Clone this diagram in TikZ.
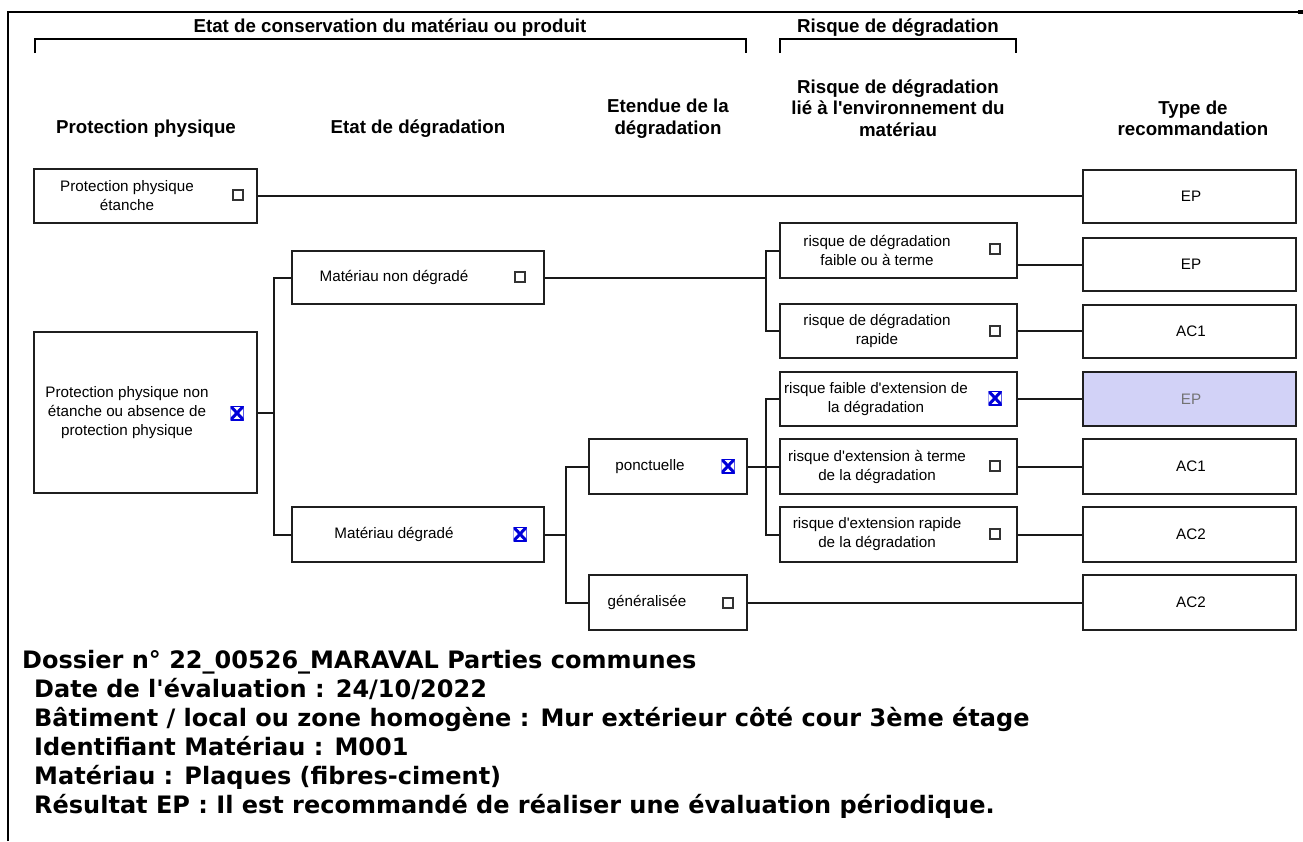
\documentclass[tikz,border=0pt]{standalone}
\usepackage{fontspec}
\setmainfont{Liberation Sans}
\newfontfamily\lsans{Liberation Sans}
\newfontfamily\vfont{DejaVu Sans}
\begin{document}
\begin{tikzpicture}[x=1pt,y=-1pt,
  box/.style={draw=black!88, line width=2pt, inner sep=0pt, fill=white},
  btxt/.style={align=center, inner sep=0pt, font=\lsans\fontsize{15.2}{19}\selectfont},
  hdr/.style={align=center, inner sep=0pt, font=\lsans\bfseries\fontsize{18.7}{21.5}\selectfont},
  info/.style={anchor=base west, inner sep=0pt, font=\vfont\bfseries\fontsize{24}{28}\selectfont},
  conn/.style={draw=black!90, line width=2pt},
  chk/.style={draw=black!80, line width=1.1pt, minimum size=10pt, inner sep=0pt},
  chkx/.style={minimum width=13pt, minimum height=14pt, inner sep=0pt,
    path picture={
      \draw[blue!85!black, line width=0.5pt] (path picture bounding box.north west) rectangle (path picture bounding box.south east);
      \draw[blue!85!black, line width=1.8pt] (path picture bounding box.north west) -- (path picture bounding box.north east)
        (path picture bounding box.south west) -- (path picture bounding box.south east);
      \draw[blue!85!black, line width=3pt] (path picture bounding box.north west) -- (path picture bounding box.south east)
        (path picture bounding box.north east) -- (path picture bounding box.south west);}},
  bwL/.style={minimum width=223pt},
  bwM/.style={minimum width=252pt},
  bwS/.style={minimum width=158pt},
  bwR/.style={minimum width=237pt},
  bwE/.style={minimum width=213pt}
]
\useasboundingbox (0,0) rectangle (1303,841);
% frame
\draw[line width=1.6pt] (8,841) -- (8,12) -- (1298,12);
\fill (1298,10.3) rectangle (1303,14);

% top headers with brackets
\node[hdr] (h1) at (390,27.5) {Etat de conservation du matériau ou produit};
\node[hdr] (h2) at (898,27.5) {Risque de dégradation};
\draw[line width=1.6pt] (35,53) -- (35,39) -- (746,39) -- (746,53);
\draw[line width=1.6pt] (780,53) -- (780,39) -- (1016,39) -- (1016,53);

% column headers
\node[hdr] (c1) at (146,129) {Protection physique};
\node[hdr] (c2) at (418,129) {Etat de dégradation};
\node[hdr] (c3) at (668,118.5) {Etendue de la\\dégradation};
\node[hdr] (c4) at (898,108) {Risque de dégradation\\lié à l'environnement du\\matériau};
\node[hdr] (c5) at (1193,118.5) {Type de\\recommandation};

% boxes
\node[box,bwL,minimum height=54pt] (ppe) at (145.5,196) {};
\node[box,bwL,minimum height=161pt] (ppne) at (145.5,412.5) {};
\node[box,bwM,minimum height=53pt] (mnd) at (418,277.5) {};
\node[box,bwM,minimum height=55pt] (md) at (418,534.5) {};
\node[box,bwS,minimum height=55pt] (ponc) at (668,466.5) {};
\node[box,bwS,minimum height=55pt] (gen) at (668,602.5) {};
\node[box,bwR,minimum height=55pt] (r1) at (898.5,250.5) {};
\node[box,bwR,minimum height=54pt] (r2) at (898.5,331) {};
\node[box,bwR,minimum height=54pt] (r3) at (898.5,399) {};
\node[box,bwR,minimum height=55pt] (r4) at (898.5,466.5) {};
\node[box,bwR,minimum height=55pt] (r5) at (898.5,534.5) {};
\node[box,bwE,minimum height=53pt] (ep1) at (1189.5,196.5) {};
\node[box,bwE,minimum height=53pt] (ep2) at (1189.5,264.5) {};
\node[box,bwE,minimum height=53pt] (ac1a) at (1189.5,331.5) {};
\node[box,bwE,minimum height=54pt,fill={rgb,255:red,210;green,210;blue,247}] (ep3) at (1189.5,399) {};
\node[box,bwE,minimum height=55pt] (ac1b) at (1189.5,466.5) {};
\node[box,bwE,minimum height=55pt] (ac2a) at (1189.5,534.5) {};
\node[box,bwE,minimum height=55pt] (ac2b) at (1189.5,602.5) {};

% box texts
\node[btxt] (ppe-t) at (127,196) {Protection physique\\étanche};
\node[btxt] (ppne-t) at (127,412.5) {Protection physique non\\étanche ou absence de\\protection physique};
\node[btxt] (mnd-t) at (394,277.5) {Matériau non dégradé};
\node[btxt] (md-t) at (394,534.5) {Matériau dégradé};
\node[btxt] (ponc-t) at (650,466.5) {ponctuelle};
\node[btxt] (gen-t) at (647,602.5) {généralisée};
\node[btxt] (r1-t) at (877,250.5) {risque de dégradation\\faible ou à terme};
\node[btxt] (r2-t) at (877,331) {risque de dégradation\\rapide};
\node[btxt] (r3-t) at (876,399) {risque faible d'extension de\\la dégradation};
\node[btxt] (r4-t) at (877,466.5) {risque d'extension à terme\\de la dégradation};
\node[btxt] (r5-t) at (877,534.5) {risque d'extension rapide\\de la dégradation};
\node[btxt] (ep1-t) at (1191,196.5) {EP};
\node[btxt] (ep2-t) at (1191,264.5) {EP};
\node[btxt] (ac1a-t) at (1191,331.5) {AC1};
\node[btxt,text=black!55] (ep3-t) at (1191,399) {EP};
\node[btxt] (ac1b-t) at (1191,466.5) {AC1};
\node[btxt] (ac2a-t) at (1191,534.5) {AC2};
\node[btxt] (ac2b-t) at (1191,602.5) {AC2};

% checkboxes
\node[chk] (ppe-c) at (238,195) {};
\node[chkx] (ppne-c) at (237,413) {};
\node[chk] (mnd-c) at (520,277) {};
\node[chkx] (md-c) at (520,534) {};
\node[chkx] (ponc-c) at (728,466) {};
\node[chk] (gen-c) at (728,603) {};
\node[chk] (r1-c) at (995,249) {};
\node[chk] (r2-c) at (995,331) {};
\node[chkx] (r3-c) at (995,398) {};
\node[chk] (r4-c) at (995,466) {};
\node[chk] (r5-c) at (995,534) {};

% connectors
\coordinate (j1) at (274,412.5);
\coordinate (j2) at (766,277.5);
\coordinate (j3) at (566,534.5);
\coordinate (j4) at (766,466.5);
\draw[conn] (ppe.east) -- (ppe.east -| ep1.west);
\draw[conn] (ppne.east |- j1) -- (j1);
\draw[conn] (mnd.west) -| (j1) |- (md.west);
\draw[conn] (mnd.east) -- (j2);
\draw[conn] (r1.west) -| (j2) |- (r2.west);
\draw[conn] (r1.east |- ep2.west) -- (ep2.west);
\draw[conn] (r2.east) -- (r2.east -| ac1a.west);
\draw[conn] (md.east) -- (j3);
\draw[conn] (ponc.west) -| (j3) |- (gen.west);
\draw[conn] (ponc.east) -- (r4.west);
\draw[conn] (r3.west) -| (j4) |- (r5.west);
\draw[conn] (r3.east) -- (r3.east -| ep3.west);
\draw[conn] (r4.east) -- (r4.east -| ac1b.west);
\draw[conn] (r5.east) -- (r5.east -| ac2a.west);
\draw[conn] (gen.east) -- (gen.east -| ac2b.west);

% info text
\node[info] (i1) at (22,668) {Dossier n° 22\_00526\_MARAVAL Parties communes};
\node[info] (i2) at (34,697) {Date de l'évaluation : 24/10/2022};
\node[info] (i3) at (34,726) {Bâtiment / local ou zone homogène : Mur extérieur côté cour 3ème étage};
\node[info] (i4) at (34,755) {Identifiant Matériau : M001};
\node[info] (i5) at (34,784) {Matériau : Plaques (fibres-ciment)};
\node[info] (i6) at (34,813) {Résultat EP : Il est recommandé de réaliser une évaluation périodique.};
\end{tikzpicture}
\end{document}
